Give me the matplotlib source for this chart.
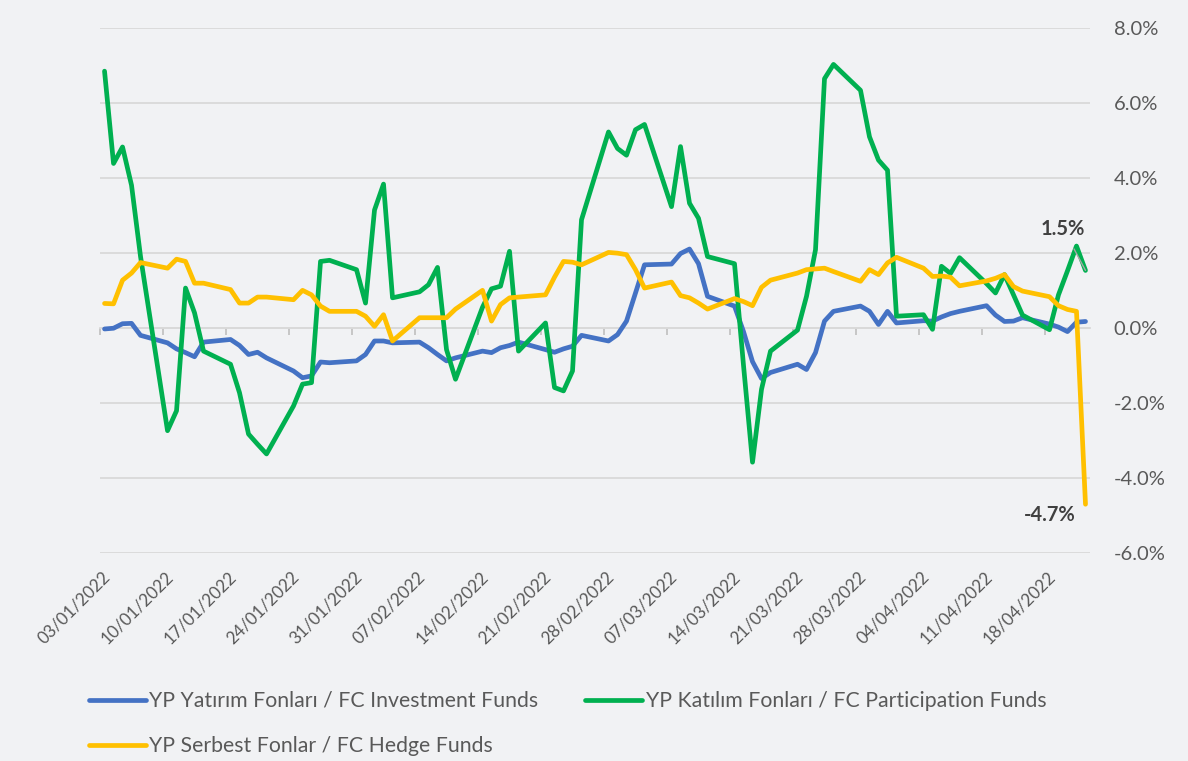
import matplotlib
matplotlib.use('Agg')
import matplotlib.pyplot as plt
import matplotlib.transforms as mtransforms
import numpy as np
import pandas as pd

plt.rcParams['font.family'] = ['Lato', 'DejaVu Sans']

# business days 03/01/2022 - 22/04/2022
dates = pd.bdate_range('2022-01-03', '2022-04-22')

investment = [
    -0.03, -0.01, 0.11, 0.12, -0.20,
    -0.40, -0.56, -0.66, -0.77, -0.38,
    -0.31, -0.47, -0.71, -0.65, -0.80,
    -1.15, -1.33, -1.28, -0.91, -0.93,
    -0.88, -0.71, -0.35, -0.35, -0.40,
    -0.38, -0.53, -0.71, -0.88, -0.80,
    -0.62, -0.66, -0.53, -0.47, -0.38,
    -0.58, -0.65, -0.56, -0.49, -0.20,
    -0.35, -0.18, 0.18, 0.93, 1.68,
    1.70, 1.98, 2.10, 1.71, 0.84,
    0.58, -0.10, -0.90, -1.35, -1.19,
    -0.97, -1.11, -0.66, 0.18, 0.44,
    0.58, 0.44, 0.09, 0.44, 0.13,
    0.19, 0.18, 0.29, 0.38, 0.44,
    0.59, 0.34, 0.17, 0.18, 0.27,
    0.10, 0.02, -0.10, 0.15, 0.17,
]
participation = [
    6.84, 4.38, 4.82, 3.80, 1.90,
    -2.74, -2.21, 1.06, 0.40, -0.62,
    -0.97, -1.73, -2.83, -3.10, -3.36,
    -2.08, -1.50, -1.46, 1.77, 1.80,
    1.55, 0.66, 3.14, 3.83, 0.80,
    0.96, 1.15, 1.61, -0.58, -1.37,
    0.55, 1.04, 1.11, 2.04, -0.62,
    0.13, -1.59, -1.68, -1.15, 2.88,
    5.22, 4.78, 4.60, 5.28, 5.42,
    3.23, 4.83, 3.32, 2.92, 1.90,
    1.71, -1.00, -3.58, -1.64, -0.62,
    -0.06, 0.84, 2.08, 6.64, 7.02,
    6.33, 5.09, 4.47, 4.20, 0.31,
    0.35, -0.04, 1.64, 1.45, 1.87,
    1.18, 0.93, 1.42, 0.88, 0.34,
    -0.05, 0.88, 1.52, 2.18, 1.53,
]
hedge = [
    0.65, 0.64, 1.27, 1.46, 1.74,
    1.59, 1.83, 1.77, 1.19, 1.19,
    1.02, 0.66, 0.66, 0.82, 0.82,
    0.75, 1.00, 0.88, 0.58, 0.44,
    0.44, 0.31, 0.04, 0.35, -0.35,
    0.27, 0.27, 0.27, 0.27, 0.50,
    1.00, 0.18, 0.62, 0.80, 0.82,
    0.88, 1.35, 1.77, 1.75, 1.68,
    2.01, 1.99, 1.95, 1.55, 1.06,
    1.22, 0.86, 0.80, 0.66, 0.50,
    0.78, 0.70, 0.59, 1.08, 1.27,
    1.46, 1.55, 1.57, 1.59, 1.50,
    1.24, 1.55, 1.42, 1.73, 1.88,
    1.59, 1.37, 1.38, 1.35, 1.12,
    1.25, 1.32, 1.42, 1.10, 0.98,
    0.83, 0.59, 0.49, 0.44, -4.70,
]

names = ['YP Yatırım Fonları / FC Investment Funds',
         'YP Katılım Fonları / FC Participation Funds',
         'YP Serbest Fonlar / FC Hedge Funds']
colors = ['#4472C4', '#00B050', '#FFC000']

bg = '#F1F2F4'
grey = '#595959'

# day index from first date (date axis, weekends left as gaps)
x = np.array([(d - dates[0]).days for d in dates])
n_days = x[-1] + 1

fig = plt.figure(figsize=(11.88, 7.61), dpi=100, facecolor=bg)
ax = fig.add_axes([0.0842, 0.2733, 0.9175 - 0.0842, 0.9637 - 0.2733])
ax.set_facecolor(bg)

lines = []
for vals, name, c in zip([investment, participation, hedge], names, colors):
    l, = ax.plot(x, vals, color=c, lw=3.4, label=name, solid_joinstyle='round',
                 solid_capstyle='round', zorder=3)
    lines.append(l)

ax.set_xlim(-0.5, n_days - 0.5)
ax.set_ylim(-6, 8)
ax.set_yticks(np.arange(-6, 8.1, 2))
ax.set_yticklabels([f'{v:.1f}%' for v in np.arange(-6, 8.1, 2)])
ax.yaxis.tick_right()
ax.tick_params(axis='y', length=0, pad=17, labelsize=14.5, labelcolor=grey)
ax.grid(axis='y', color='#D9D9D9', lw=1.3, zorder=0)
for s in ax.spines.values():
    s.set_visible(False)

# weekly date labels centred on the day, tick marks on day boundaries at 0%
label_days = np.arange(0, n_days, 7)
ax.set_xticks(label_days)
ax.set_xticklabels([(dates[0] + pd.Timedelta(days=int(d))).strftime('%d/%m/%Y')
                    for d in label_days], rotation=45, ha='right', va='center',
                   rotation_mode='anchor')
ax.tick_params(axis='x', length=0, pad=15, labelsize=12.3, labelcolor=grey)
shift = mtransforms.ScaledTranslation(0.03, 0, fig.dpi_scale_trans)
for lab in ax.get_xticklabels():
    lab.set_transform(lab.get_transform() + shift)

zero_axis = ax.secondary_xaxis(6 / 14)
zero_axis.set_xticks(label_days - 0.5)
zero_axis.tick_params(axis='x', direction='out', length=5, width=1.2,
                      color='#BFBFBF', labelbottom=False)
zero_axis.spines['bottom'].set_color('#D9D9D9')
zero_axis.spines['bottom'].set_linewidth(1.3)

# end labels
ax.annotate(f'{participation[-1]:.1f}%', (x[-1], participation[-1]),
            xytext=(-16, 30), textcoords='offset points', ha='center', va='center',
            fontsize=14.5, fontweight='bold', color='#404040',
            arrowprops=dict(arrowstyle='-', color='#A6A6A6', lw=1, shrinkA=6, shrinkB=0))
ax.annotate(f'{hedge[-1]:.1f}%', (x[-1], hedge[-1]),
            xytext=(-26, -8), textcoords='offset points', ha='center', va='center',
            fontsize=14.5, fontweight='bold', color='#404040')

fig.legend([lines[0], lines[2], lines[1]], [names[0], names[2], names[1]],
           ncol=2, loc='upper left', bbox_to_anchor=(0.0745, 0.092), frameon=False,
           fontsize=15.3, labelcolor=grey, handlelength=2.7, handletextpad=0.15,
           columnspacing=2.2, labelspacing=1.2, borderpad=0, borderaxespad=0)

fig.savefig('out.png', dpi=100, facecolor=bg)
